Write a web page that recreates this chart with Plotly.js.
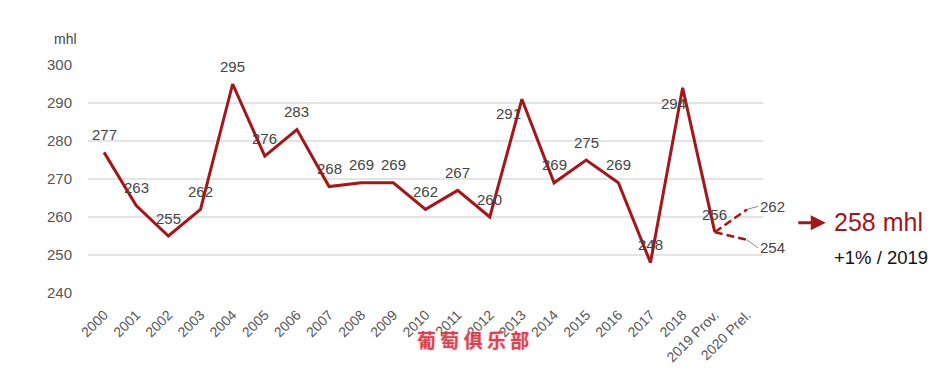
<!DOCTYPE html>
<html><head><meta charset="utf-8">
<script src="https://cdn.plot.ly/plotly-3.0.1.min.js"></script>
<style>html,body{margin:0;padding:0;background:#fff}#c{width:949px;height:379px}</style>
</head><body><div id="c"></div>
<script>
const years = ["2000","2001","2002","2003","2004","2005","2006","2007","2008","2009","2010","2011","2012","2013","2014","2015","2016","2017","2018","2019 Prov.","2020 Prel."];
const production = [277,263,255,262,295,276,283,268,269,269,262,267,260,291,269,275,269,248,294,256];
const forecastHigh = [256,262];
const forecastLow = [256,254];
const forecastYears = ["2019 Prov.","2020 Prel."];
const yTicks = [240,250,260,270,280,290,300];
const unitLabel = "mhl";
const headline = "258 mhl";
const change = "+1% / 2019";
const watermark = "葡 萄 俱 乐 部";

const F = '"Liberation Sans Narrow","Liberation Sans",Arial,sans-serif';
const red = '#a3161a';
// label offsets (style, not data)
const labelShiftX = production.map((v,i)=> i===13 ? -13 : (i===18 ? -9 : 0));
const labelShiftY = production.map((v,i)=> i===13 ? -14 : (i===18 ? -16 : 18));

const traces = [
 {x: forecastYears, y: forecastHigh, mode:'lines', line:{color:red,width:2.5,dash:'8px,4px'}, hoverinfo:'skip'},
 {x: forecastYears, y: forecastLow, mode:'lines', line:{color:red,width:2.5,dash:'8px,4px'}, hoverinfo:'skip'},
 {x: years.slice(0,production.length), y: production, mode:'lines', line:{color:red,width:3}}
];

const labelAnns = production.map((v,i)=>({
  x: i, y: v, text: String(v), showarrow:false, xanchor:'center', yanchor:'middle',
  xshift: labelShiftX[i], yshift: labelShiftY[i], font:{family:F,size:15,color:'#444'}
}));
const last = years.length - 1;

const layout = {
 width:949, height:379, showlegend:false,
 margin:{l:88,r:186,t:65,b:86},
 paper_bgcolor:'#fff', plot_bgcolor:'#fff',
 xaxis:{type:'category', categoryarray:years, categoryorder:'array', range:[-0.5,20.5],
   tickangle:-45, tickfont:{family:F,size:14,color:'#555'}, showgrid:false, zeroline:false, showline:false, ticks:'', ticklabelstandoff:10},
 yaxis:{range:[240,300], tickvals:yTicks, tickfont:{family:F,size:15,color:'#555'},
   gridcolor:'#e4e4e4', gridwidth:1.5, zeroline:false, showline:false, ticks:'', ticklabelstandoff:15},
 annotations: labelAnns.concat([
  {xref:'paper',yref:'paper',x:-0.033,y:1.07,text:unitLabel,showarrow:false,xanchor:'center',yanchor:'bottom',font:{family:F,size:14,color:'#444'}},
  {x:last,y:forecastHigh[1],text:String(forecastHigh[1]),showarrow:true,arrowhead:0,arrowwidth:0.8,arrowcolor:'#666',ax:11,ay:-3,xanchor:'left',font:{family:F,size:15,color:'#444'}},
  {x:last,y:forecastLow[1],text:String(forecastLow[1]),showarrow:true,arrowhead:0,arrowwidth:0.8,arrowcolor:'#666',ax:11,ay:8,xanchor:'left',font:{family:F,size:15,color:'#444'}},
  {xref:'paper',yref:'paper',x:1.093,y:0.308,ax:-29,ay:0,text:'',showarrow:true,arrowhead:2,arrowsize:1,arrowwidth:3,arrowcolor:red},
  {xref:'paper',yref:'paper',x:1.102,y:0.31,text:headline,showarrow:false,xanchor:'left',yanchor:'middle',font:{family:F,size:25,color:red}},
  {xref:'paper',yref:'paper',x:1.102,y:0.155,text:change,showarrow:false,xanchor:'left',yanchor:'middle',font:{family:F,size:18.5,color:'#111'}},
  {xref:'paper',yref:'paper',x:0.57,y:-0.205,text:watermark,showarrow:false,xanchor:'center',yanchor:'middle',font:{family:'"Noto Sans CJK SC",sans-serif',size:19,weight:700,color:'rgba(205,45,60,0.85)',shadow:'0 0 3px rgba(240,150,160,0.9)'}}
 ])
};
Plotly.newPlot('c', traces, layout, {displayModeBar:false, staticPlot:true});
</script></body></html>
